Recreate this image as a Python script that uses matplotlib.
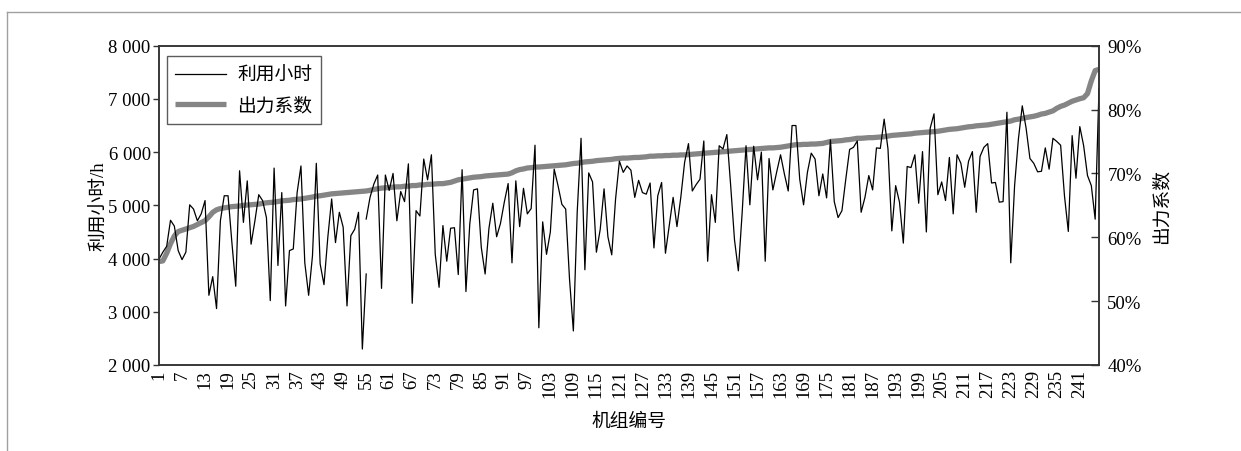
import matplotlib
matplotlib.use("Agg")
import matplotlib.pyplot as plt
from matplotlib.lines import Line2D
from matplotlib.ticker import FuncFormatter, MultipleLocator

# ---------------- data ----------------
# utilisation hours, units 1..55 (first segment)
hours_a = [3990, 4120, 4230, 4720, 4610, 4150, 3980, 4120, 5010, 4930,
           4710, 4840, 5090, 3310, 3660, 3060, 4710, 5180, 5180, 4300,
           3480, 5650, 4680, 5460, 4270, 4710, 5200, 5090, 4770, 3210,
           5700, 3870, 5240, 3110, 4150, 4180, 5240, 5740, 3920, 3310,
           4050, 5790, 3900, 3510, 4400, 5120, 4300, 4870, 4590, 3110,
           4430, 4550, 4870, 2300, 3710]
# utilisation hours, units 55..246 (second segment, line restarts at unit 55)
hours_b = [4743, 5150, 5400, 5570, 3440, 5570, 5280, 5600, 4710, 5260,
           5070, 5780, 3160, 4900, 4800, 5870, 5480, 5950, 4080, 3460,
           4620, 3950, 4570, 4580, 3700, 5670, 3380, 4650, 5290, 5310,
           4210, 3710, 4570, 5040, 4410, 4660, 5060, 5410, 3920, 5460,
           4600, 5320, 4840, 4940, 6130, 2700, 4690, 4080, 4500, 5680,
           5370, 5020, 4930, 3610, 2640, 4870, 6260, 3790, 5610, 5440,
           4120, 4550, 5310, 4410, 4070, 5120, 5830, 5620, 5740, 5660,
           5150, 5470, 5240, 5210, 5420, 4200, 5180, 5430, 4100, 4620,
           5150, 4600, 5150, 5810, 6160, 5270, 5390, 5490, 6210, 3950,
           5200, 4680, 6120, 6060, 6330, 5370, 4350, 3770, 4870, 6120,
           5010, 6110, 5480, 6000, 3950, 5880, 5290, 5630, 5950, 5590,
           5270, 6500, 6500, 5490, 5010, 5620, 5980, 5870, 5180, 5590,
           5140, 6230, 5070, 4770, 4900, 5490, 6050, 6090, 6210, 4870,
           5150, 5560, 5290, 6080, 6070, 6620, 6060, 4520, 5370, 5060,
           4290, 5730, 5710, 5950, 5040, 6010, 4500, 6450, 6720, 5200,
           5440, 5090, 5900, 4840, 5950, 5790, 5340, 5830, 6010, 4870,
           5920, 6090, 6160, 5420, 5430, 5060, 5070, 6750, 3920, 5370,
           6250, 6870, 6450, 5880, 5790, 5630, 5640, 6080, 5680, 6260,
           6200, 6130, 5180, 4510, 6310, 5510, 6480, 6120, 5560, 5370,
           4740, 7190]

# output factor (%), units 1..246
factor = [56.2, 56.3, 57.5, 59.0, 60.2, 60.9, 61.1, 61.3, 61.5, 61.7,
          62.0, 62.3, 62.6, 63.2, 63.9, 64.3, 64.5, 64.6, 64.7, 64.8,
          64.85, 64.9, 65.0, 65.05, 65.1, 65.15, 65.2, 65.3, 65.4, 65.45,
          65.5, 65.6, 65.7, 65.75, 65.8, 65.9, 65.95, 66.0, 66.1, 66.2,
          66.3, 66.45, 66.5, 66.6, 66.7, 66.8, 66.85, 66.9, 66.95, 67.0,
          67.05, 67.1, 67.15, 67.2, 67.25, 67.35, 67.5, 67.6, 67.7, 67.75,
          67.8, 67.85, 67.9, 67.9, 68.0, 68.0, 68.1, 68.1, 68.2, 68.2,
          68.3, 68.3, 68.35, 68.4, 68.4, 68.5, 68.6, 68.8, 69.0, 69.1,
          69.2, 69.3, 69.4, 69.45, 69.5, 69.6, 69.65, 69.7, 69.75, 69.8,
          69.85, 69.9, 70.1, 70.4, 70.6, 70.7, 70.85, 70.9, 71.0, 71.0,
          71.05, 71.1, 71.15, 71.2, 71.25, 71.3, 71.35, 71.45, 71.55, 71.6,
          71.7, 71.8, 71.85, 71.9, 72.0, 72.05, 72.1, 72.15, 72.2, 72.3,
          72.35, 72.4, 72.4, 72.45, 72.5, 72.5, 72.55, 72.6, 72.7, 72.7,
          72.75, 72.75, 72.8, 72.8, 72.85, 72.85, 72.9, 72.9, 72.95, 73.0,
          73.05, 73.1, 73.15, 73.2, 73.25, 73.3, 73.35, 73.4, 73.45, 73.5,
          73.55, 73.6, 73.65, 73.7, 73.75, 73.8, 73.85, 73.9, 73.95, 74.0,
          74.0, 74.05, 74.1, 74.2, 74.3, 74.4, 74.5, 74.5, 74.55, 74.55,
          74.6, 74.6, 74.65, 74.7, 74.85, 75.0, 75.05, 75.1, 75.15, 75.25,
          75.3, 75.4, 75.5, 75.5, 75.55, 75.6, 75.6, 75.65, 75.7, 75.75,
          75.85, 75.95, 76.0, 76.05, 76.1, 76.15, 76.2, 76.3, 76.35, 76.4,
          76.45, 76.5, 76.55, 76.6, 76.7, 76.8, 76.9, 76.95, 77.0, 77.1,
          77.2, 77.3, 77.35, 77.45, 77.5, 77.55, 77.6, 77.7, 77.8, 77.9,
          78.0, 78.1, 78.2, 78.4, 78.5, 78.6, 78.75, 78.85, 78.95, 79.1,
          79.3, 79.4, 79.6, 79.8, 80.2, 80.5, 80.7, 81.0, 81.3, 81.5,
          81.7, 81.85, 82.5, 84.5, 86.1, 86.3]

units = list(range(1, len(factor) + 1))
units_a = units[:len(hours_a)]
units_b = units[len(hours_a) - 1:]
xtick_labels = [str(u) for u in range(1, 246, 6)]

label_hours = "利用小时"
label_factor = "出力系数"
xlabel = "机组编号"
ylabel_left = "利用小时/h"
ylabel_right = "出力系数"

# ---------------- style ----------------
SERIF = ["Liberation Serif", "Noto Sans CJK SC", "DejaVu Sans"]
CJK = ["Noto Sans CJK SC", "DejaVu Sans"]
plt.rcParams["font.family"] = SERIF
FS = 13.5
GRAY = "#858585"
SPINE = "#333333"

fig = plt.figure(figsize=(12.41, 4.52), dpi=100)
ax = fig.add_axes([159 / 1241, 1 - 366 / 452, 940 / 1241, 319.3 / 452])
ax2 = ax.twinx()

l2, = ax2.plot(units, factor, color=GRAY, lw=3.8, solid_capstyle="butt",
               solid_joinstyle="round", label=label_factor)
l1, = ax.plot(units_a, hours_a, color="black", lw=0.9, label=label_hours)
ax.plot(units_b, hours_b, color="black", lw=0.9)

ax.set_zorder(ax2.get_zorder() + 1)
ax.patch.set_visible(False)

ax.set_xlim(1, 246)
ax.set_ylim(2000, 8000)
ax2.set_ylim(40, 90)

ax.set_xticks(list(range(1, 246, 6)))
ax.set_xticklabels(xtick_labels, rotation=90, fontsize=FS, family=SERIF)
ax.yaxis.set_major_locator(MultipleLocator(1000))
ax.yaxis.set_major_formatter(FuncFormatter(lambda v, p: f"{int(v)//1000} {int(v)%1000:03d}"))
ax2.yaxis.set_major_locator(MultipleLocator(10))
ax2.yaxis.set_major_formatter(FuncFormatter(lambda v, p: f"{int(round(v))}%"))

ax.tick_params(axis="x", length=0, pad=3, labelsize=FS)
ax.tick_params(axis="y", direction="out", length=4, width=1, color=SPINE, pad=2, labelsize=FS)
ax2.tick_params(axis="y", direction="in", length=6, width=1, color=SPINE, pad=6, labelsize=FS)
for lab in ax.get_yticklabels() + ax2.get_yticklabels():
    lab.set_family(SERIF)

for a in (ax, ax2):
    for s in a.spines.values():
        s.set_color(SPINE)
        s.set_linewidth(1.1)

ax.set_xlabel(xlabel, fontsize=FS, family=CJK, labelpad=9)
ax.set_ylabel(ylabel_left, fontsize=FS, family=SERIF, labelpad=0)
ax2.set_ylabel(ylabel_right, fontsize=FS, family=CJK, labelpad=6)

leg = ax.legend(handles=[l1, l2], loc="upper left",
                bbox_to_anchor=(8 / 940, 1 - 10 / 319.3), borderaxespad=0,
                prop={"family": CJK, "size": FS}, frameon=True, fancybox=False,
                handlelength=2.7, handletextpad=0.6, labelspacing=0.5,
                borderpad=0.45)
leg.get_frame().set_edgecolor(SPINE)
leg.get_frame().set_linewidth(1.0)

# page border lines
fig.add_artist(Line2D([7 / 1241, 1], [1 - 13 / 452, 1 - 13 / 452],
                      transform=fig.transFigure, color="#a0a0a0", lw=1))
fig.add_artist(Line2D([7 / 1241, 7 / 1241], [0, 1 - 13 / 452],
                      transform=fig.transFigure, color="#a0a0a0", lw=1))

fig.savefig("out.png", dpi=100)
